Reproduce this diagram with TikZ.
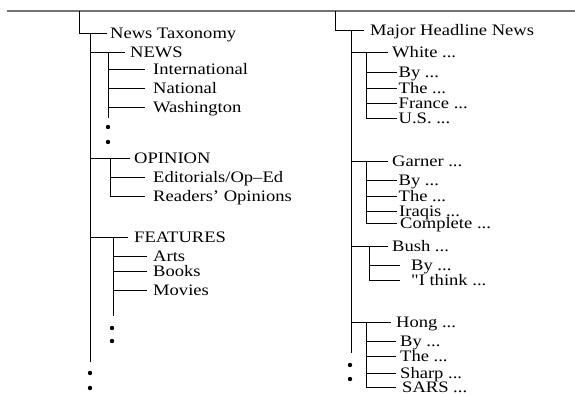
\documentclass[tikz,border=0pt]{standalone}
\usepackage{fontspec}
\newfontfamily\treefont{Liberation Serif}[FakeStretch=1.16]
\begin{document}
\begin{tikzpicture}[x=1pt,y=-1pt,
  lab/.style={anchor=west,inner ysep=0pt,text height=11pt,text depth=0pt,
    font=\treefont\fontsize{16}{18}\selectfont},
  link/.style={draw=black,line width=0.9pt},
  topline/.style={draw=black!55,line width=2pt},
  dotmark/.style={circle,fill=black,inner sep=0pt,minimum size=4.4pt}]
\useasboundingbox (0,0) rectangle (575,394);
% top rule
\coordinate (tl) at (7,11);
\coordinate (tr) at (575,11);
\draw[topline] (tl) -- (tr);
% ---------------- left tree
\coordinate (L0) at (79,11);
\node[lab,inner xsep=3pt] (nt) at (107,33) {News Taxonomy};
\draw[link] (L0) |- (nt.west);
\coordinate (Lm) at (90,33);
\coordinate (Lend) at (90,362);
\draw[link] (Lm) -- (Lend);
% NEWS
\node[lab,inner xsep=5pt] (news) at (125,52) {NEWS};
\draw[link] (Lm) |- (news.west);
\coordinate (nj) at (108,52);
\coordinate (nje) at (108,118);
\draw[link] (nj) -- (nje);
\node[lab,inner xsep=8pt] (intl) at (145,69) {International};
\node[lab,inner xsep=8pt] (natl) at (145,88) {National};
\node[lab,inner xsep=8pt] (wash) at (145,107) {Washington};
\foreach \c in {intl,natl,wash} \draw[link] (nj) |- (\c.west);
\node[dotmark] (nd1) at (108,127) {};
\node[dotmark] (nd2) at (108,142) {};
% OPINION
\node[lab,inner xsep=4pt] (opin) at (130,158) {OPINION};
\draw[link] (Lm) |- (opin.west);
\coordinate (oj) at (110,158);
\node[lab,inner xsep=8pt] (edit) at (145,177) {Editorials/Op–Ed};
\node[lab,inner xsep=8pt] (read) at (145,196) {Readers’ Opinions};
\foreach \c in {edit,read} \draw[link] (oj) |- (\c.west);
% FEATURES
\node[lab,inner xsep=6pt] (feat) at (128,237) {FEATURES};
\draw[link] (Lm) |- (feat.west);
\coordinate (fj) at (113,237);
\coordinate (fje) at (113,316);
\draw[link] (fj) -- (fje);
\node[lab,inner xsep=6pt] (arts) at (147,256) {Arts};
\node[lab,inner xsep=6pt] (books) at (147,271) {Books};
\node[lab,inner xsep=6pt] (movies) at (147,290) {Movies};
\foreach \c in {arts,books,movies} \draw[link] (fj) |- (\c.west);
\node[dotmark] (fd1) at (112,328) {};
\node[dotmark] (fd2) at (112,341) {};
\node[dotmark] (ld1) at (90,373) {};
\node[dotmark] (ld2) at (90,388) {};
% ---------------- right tree
\coordinate (R0) at (335,11);
\node[lab,inner xsep=6pt] (mhn) at (364,30) {Major Headline News};
\draw[link] (R0) |- (mhn.west);
\coordinate (Rm) at (351,30);
\coordinate (Rend) at (351,353);
\draw[link] (Rm) -- (Rend);
% White
\node[lab,inner xsep=4pt] (white) at (388,52) {White ...};
\draw[link] (Rm) |- (white.west);
\coordinate (wj) at (366,52);
\node[lab,inner xsep=1.5pt] (wby) at (397,72) {By ...};
\node[lab,inner xsep=1.5pt] (wthe) at (397,88) {The ...};
\node[lab,inner xsep=1.5pt] (wfr) at (397,103) {France ...};
\node[lab,inner xsep=1.5pt] (wus) at (397,118) {U.S. ...};
\foreach \c in {wby,wthe,wfr,wus} \draw[link] (wj) |- (\c.west);
% Garner
\node[lab,inner xsep=4pt] (garner) at (388,161) {Garner ...};
\draw[link] (Rm) |- (garner.west);
\coordinate (gj) at (366,161);
\node[lab,inner xsep=1.5pt] (gby) at (397,180) {By ...};
\node[lab,inner xsep=1.5pt] (gthe) at (397,196) {The ...};
\node[lab,inner xsep=2pt] (giq) at (397,211) {Iraqis ...};
\node[lab,inner xsep=3pt] (gco) at (397,223) {Complete ...};
\foreach \c in {gby,gthe,giq,gco} \draw[link] (gj) |- (\c.west);
% Bush
\node[lab,inner xsep=4pt] (bush) at (388,246) {Bush ...};
\draw[link] (Rm) |- (bush.west);
\coordinate (bj) at (369,246);
\node[lab,inner xsep=11pt] (bby) at (400,265) {By ...};
\node[lab,inner xsep=11pt] (bthink) at (400,280) {"I think ...};
\foreach \c in {bby,bthink} \draw[link] (bj) |- (\c.west);
% Hong
\node[lab,inner xsep=5pt] (hong) at (391,322) {Hong ...};
\draw[link] (Rm) |- (hong.west);
\coordinate (hj) at (366,322);
\node[lab,inner xsep=4pt] (hby) at (396,341) {By ...};
\node[lab,inner xsep=4pt] (hthe) at (396,356) {The ...};
\node[lab,inner xsep=4pt] (hsh) at (396,373) {Sharp ...};
\node[lab,inner xsep=6pt] (hsa) at (396,387) {SARS ...};
\foreach \c in {hby,hthe,hsh,hsa} \draw[link] (hj) |- (\c.west);
\node[dotmark] (rd1) at (350,365) {};
\node[dotmark] (rd2) at (350,379) {};
\end{tikzpicture}
\end{document}
